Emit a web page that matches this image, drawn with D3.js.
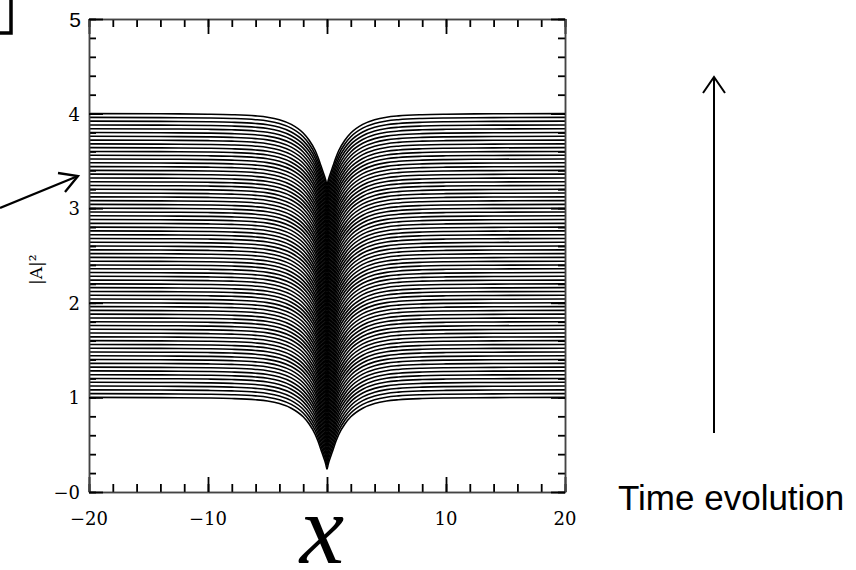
<!DOCTYPE html>
<html>
<head>
<meta charset="utf-8">
<script src="https://cdn.jsdelivr.net/npm/d3@7"></script>
<style>
  body { margin: 0; background: #fff; }
  svg { display: block; }
</style>
</head>
<body>
<script>
// background level |A|^2 of each curve (bottom to top)
const levels = [1.00,1.04,1.08,1.12,1.16,1.20,1.24,1.28,1.32,1.36,1.40,1.44,1.48,1.52,1.56,1.60,1.64,1.68,1.72,1.76,1.80,1.84,1.88,1.92,1.96,2.00,2.04,2.08,2.12,2.16,2.20,2.24,2.28,2.32,2.36,2.40,2.44,2.48,2.52,2.56,2.60,2.64,2.68,2.72,2.76,2.80,2.84,2.88,2.92,2.96,3.00,3.04,3.08,3.12,3.16,3.20,3.24,3.28,3.32,3.36,3.40,3.44,3.48,3.52,3.56,3.60,3.64,3.68,3.72,3.76,3.80,3.84,3.88,3.92,3.96,4.00];
// depth of the dip at x = 0
const dipDepth = 0.76;
// dip shape (fraction of depth), right half
const profileX = [0, 0.1, 0.25, 0.5, 0.75, 1, 1.5, 2, 3, 4, 5, 6, 8, 10, 14, 20];
const profileF = [1, 0.93, 0.85, 0.73, 0.61, 0.51, 0.37, 0.27, 0.15, 0.085, 0.05, 0.032, 0.015, 0.008, 0.003, 0];
// tick labels
const xLabels = [-20, -10, 10, 20];
const yLabels = [1, 2, 3, 4];

const W = 856, H = 570;
const svg = d3.select("body").append("svg")
  .attr("width", W)
  .attr("height", H);
svg.append("rect").attr("width", W).attr("height", H).attr("fill", "#fff");

const x = d3.scaleLinear().domain([-20, 20]).range([89, 565]);
const y = d3.scaleLinear().domain([0, 5]).range([492, 19]);

svg.append("clipPath").attr("id", "plot")
  .append("rect")
  .attr("x", x(-20)).attr("y", y(5))
  .attr("width", x(20) - x(-20)).attr("height", y(0) - y(5));

// full profile, mirrored about x = 0
const prof = [];
for (let i = profileX.length - 1; i > 0; i--) prof.push([-profileX[i], profileF[i]]);
for (let i = 0; i < profileX.length; i++) prof.push([profileX[i], profileF[i]]);

const line = d3.line()
  .x(d => x(d[0]))
  .y(d => y(d[1]))
  .curve(d3.curveMonotoneX);

svg.append("g")
  .attr("clip-path", "url(#plot)")
  .selectAll("path")
  .data(levels)
  .join("path")
  .attr("fill", "none")
  .attr("stroke", "#000")
  .attr("stroke-width", 1.6)
  .attr("d", lv => line(prof.map(p => [p[0], lv - dipDepth * p[1]])));

// axes: ticks point inward on all four sides
const xMinor = d3.range(-20, 21, 2);
const xMajor = [-20, -10, 0, 10, 20];
const yMinor = d3.range(0, 5.01, 0.2);
const yMajor = [0, 1, 2, 3, 4, 5];

function drawAxis(gen, tx, ty, vals, size) {
  const g = svg.append("g")
    .attr("transform", `translate(${tx},${ty})`)
    .call(gen.tickValues(vals).tickSize(size).tickSizeOuter(0).tickFormat(""));
  g.select(".domain").attr("stroke", "#444").attr("stroke-width", 1.5);
  g.selectAll(".tick line").attr("stroke", "#000").attr("stroke-width", 1.8);
  return g;
}
drawAxis(d3.axisTop(x), 0, y(0), xMinor, 8);
drawAxis(d3.axisTop(x), 0, y(0), xMajor, 15);
drawAxis(d3.axisBottom(x), 0, y(5), xMinor, 8);
drawAxis(d3.axisBottom(x), 0, y(5), xMajor, 15);
drawAxis(d3.axisRight(y), x(-20), 0, yMinor, 7);
drawAxis(d3.axisRight(y), x(-20), 0, yMajor, 14);
drawAxis(d3.axisLeft(y), x(20), 0, yMinor, 7);
drawAxis(d3.axisLeft(y), x(20), 0, yMajor, 14);

// tick labels
const serif = "'DejaVu Serif', serif";
svg.append("g").selectAll("text")
  .data(xLabels)
  .join("text")
  .attr("x", d => x(d))
  .attr("y", y(0) + 33)
  .attr("text-anchor", "middle")
  .attr("font-family", serif)
  .attr("font-size", 18)
  .text(d => d < 0 ? "\u2212" + Math.abs(d) : d);

svg.append("g").selectAll("text")
  .data(yLabels)
  .join("text")
  .attr("x", 80)
  .attr("y", d => y(d) + 7)
  .attr("text-anchor", "end")
  .attr("font-family", serif)
  .attr("font-size", 18)
  .text(d => d);

svg.append("text")
  .attr("x", 80).attr("y", y(0) + 7)
  .attr("text-anchor", "end")
  .attr("font-family", serif)
  .attr("font-size", 18)
  .text("\u22120");

svg.append("text")
  .attr("x", 81).attr("y", y(5) + 8)
  .attr("text-anchor", "end")
  .attr("font-family", "'Liberation Sans', Arial, sans-serif")
  .attr("font-size", 21)
  .text("5");

// y title
svg.append("text")
  .attr("transform", `translate(42,${y(2.35)}) rotate(-90)`)
  .attr("text-anchor", "middle")
  .attr("font-family", serif)
  .attr("font-size", 17)
  .text("|A|\u00b2");

// big x label
svg.append("text")
  .attr("x", 322).attr("y", 563)
  .attr("text-anchor", "middle")
  .attr("font-family", "'Liberation Serif', 'Times New Roman', serif")
  .attr("font-style", "italic")
  .attr("font-size", 100)
  .text("x");

// annotations
const ink = svg.append("g").attr("fill", "none").attr("stroke", "#000")
  .attr("stroke-linecap", "butt").attr("stroke-linejoin", "miter");
ink.append("path").attr("d", "M0,33 L11,33 L11,0").attr("stroke-width", 3.5);
ink.append("path").attr("d", "M0,208 L78,176").attr("stroke-width", 2.3);
ink.append("path").attr("d", "M58,173 L78,176 L65,192").attr("stroke-width", 2.3);
ink.append("path").attr("d", "M714,433 L714,77").attr("stroke-width", 2);
ink.append("path").attr("d", "M703,93 L714,77 L725,93").attr("stroke-width", 2);

svg.append("text")
  .attr("x", 618).attr("y", 510)
  .attr("font-family", "'Liberation Sans', Arial, sans-serif")
  .attr("font-size", 35)
  .text("Time evolution");
</script>
</body>
</html>
